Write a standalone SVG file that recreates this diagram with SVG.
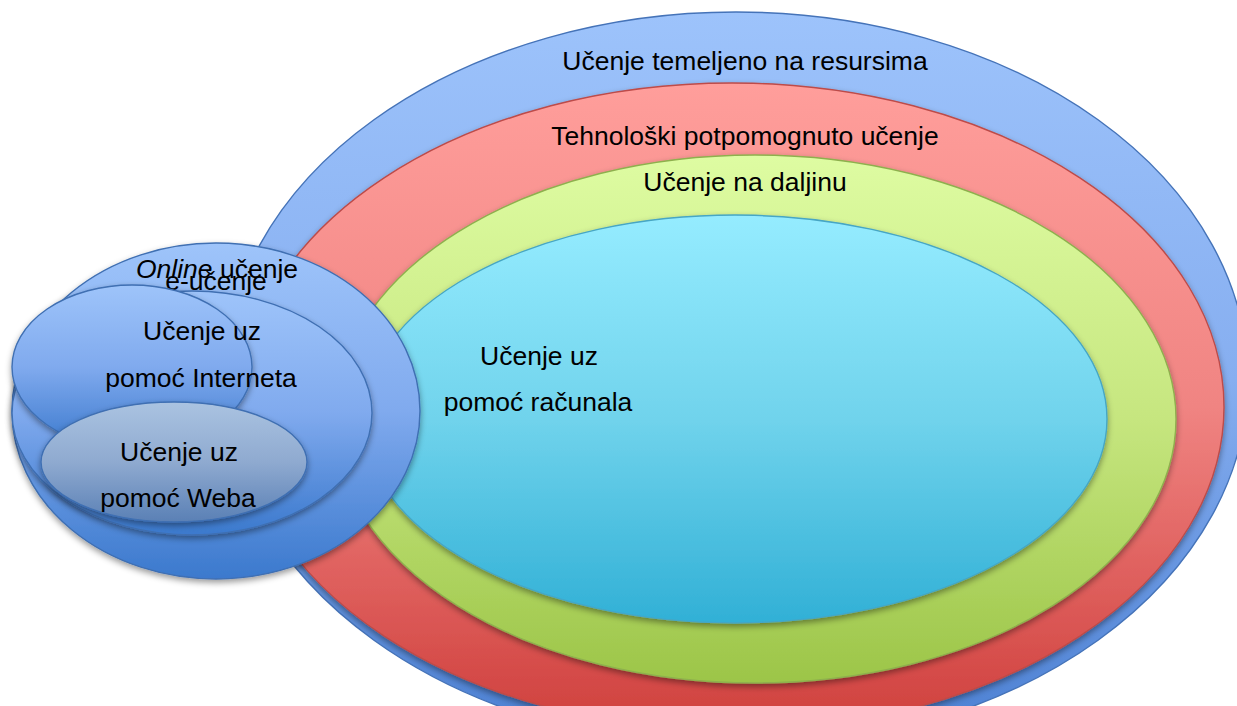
<svg xmlns="http://www.w3.org/2000/svg" width="1237" height="706" viewBox="0 0 1237 706">
<defs>
<linearGradient id="gBlue" x1="0" y1="0" x2="0" y2="1"><stop offset="0" stop-color="#9DC3FB"/><stop offset="0.5" stop-color="#86AEF0"/><stop offset="1" stop-color="#4A7FD2"/></linearGradient>
<linearGradient id="gRed" x1="0" y1="0" x2="0" y2="1"><stop offset="0" stop-color="#FF9E9B"/><stop offset="0.5" stop-color="#F08482"/><stop offset="1" stop-color="#CF3F3C"/></linearGradient>
<linearGradient id="gGreen" x1="0" y1="0" x2="0" y2="1"><stop offset="0" stop-color="#DEFCA2"/><stop offset="0.5" stop-color="#C6E67F"/><stop offset="1" stop-color="#9CC548"/></linearGradient>
<linearGradient id="gCyan" x1="0" y1="0" x2="0" y2="1"><stop offset="0" stop-color="#95ECFF"/><stop offset="0.5" stop-color="#70D3EC"/><stop offset="1" stop-color="#31B0D6"/></linearGradient>
<linearGradient id="gClu" x1="0" y1="0" x2="0" y2="1"><stop offset="0" stop-color="#9EC4FA"/><stop offset="0.5" stop-color="#80AAEE"/><stop offset="1" stop-color="#3B79CD"/></linearGradient>
<linearGradient id="gWeb" x1="0" y1="0" x2="0" y2="1"><stop offset="0" stop-color="#AAC3E1"/><stop offset="0.5" stop-color="#8FAAD0"/><stop offset="1" stop-color="#5A80B5"/></linearGradient>
<filter id="sh" x="-10%" y="-10%" width="120%" height="130%"><feDropShadow dx="0" dy="3" stdDeviation="3" flood-color="#000" flood-opacity="0.4"/></filter>
</defs>
<style>
text{font-family:"Liberation Sans",Arial,sans-serif;font-size:26.5px;fill:#000;text-anchor:middle}
.blue{fill:url(#gBlue);stroke:#4573B8;stroke-width:1.4}
.red{fill:url(#gRed);stroke:#BE4B48;stroke-width:1.4;filter:url(#sh)}
.green{fill:url(#gGreen);stroke:#8EB04E;stroke-width:1.4;filter:url(#sh)}
.cyan{fill:url(#gCyan);stroke:#46A6C4;stroke-width:1.4;filter:url(#sh)}
.clu{fill:url(#gClu);stroke:#3F6FB2;stroke-width:1.4;filter:url(#sh)}
.web{fill:url(#gWeb);stroke:#3F6FB2;stroke-width:1.4;filter:url(#sh)}
</style>
<g id="resursi">
<ellipse class="blue" cx="736" cy="380" rx="512" ry="368"/>
<text x="745" y="70">Učenje temeljeno na resursima</text>
</g>
<g id="tehnoloski">
<ellipse class="red" cx="732" cy="407" rx="492" ry="324"/>
<text x="745" y="145">Tehnološki potpomognuto učenje</text>
</g>
<g id="daljina">
<ellipse class="green" cx="755" cy="419" rx="421" ry="264"/>
<text x="745" y="191">Učenje na daljinu</text>
</g>
<g id="racunalo">
<ellipse class="cyan" cx="735" cy="419" rx="372" ry="204"/>
<text x="539" y="365">Učenje uz</text>
<text x="538" y="411">pomoć računala</text>
</g>
<g id="online">
<ellipse class="clu" cx="216" cy="411" rx="204" ry="168"/>
<text x="217" y="278"><tspan font-style="italic">Online</tspan> učenje</text>
</g>
<g id="e-ucenje">
<ellipse class="clu" cx="192" cy="413" rx="180" ry="122"/>
<text x="216" y="290">e-učenje</text>
</g>
<g id="internet">
<ellipse class="clu" cx="132" cy="367" rx="120" ry="82"/>
<text x="202" y="340">Učenje uz</text>
<text x="201" y="387">pomoć Interneta</text>
</g>
<g id="web">
<ellipse class="web" cx="174" cy="462" rx="133" ry="60"/>
<text x="179" y="461">Učenje uz</text>
<text x="178" y="507">pomoć Weba</text>
</g>
</svg>
